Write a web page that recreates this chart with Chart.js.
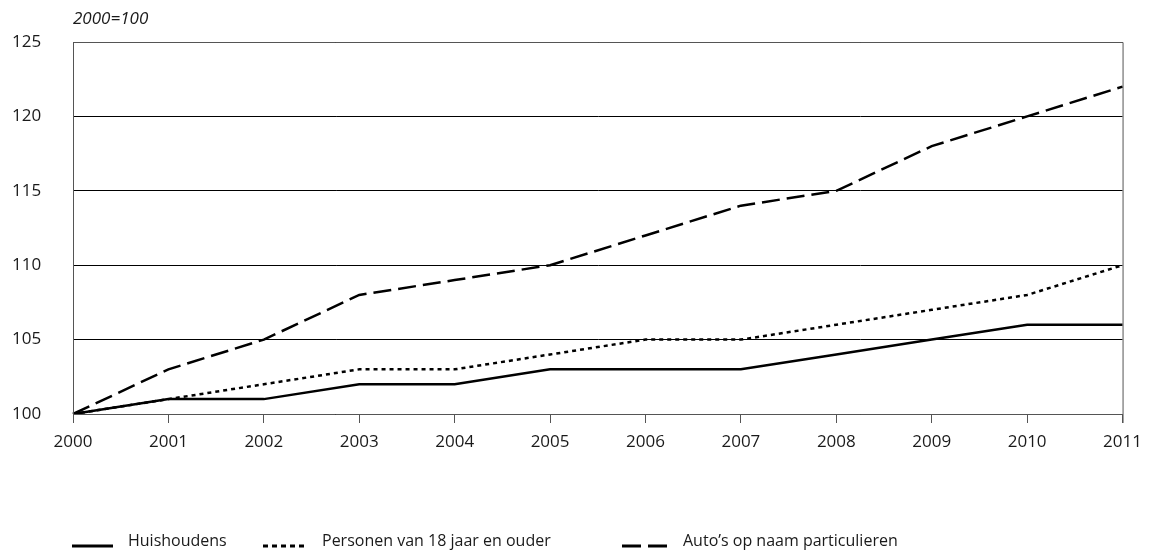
<!DOCTYPE html>
<html>
<head>
<meta charset="utf-8">
<script src="https://cdn.jsdelivr.net/npm/chart.js@4/dist/chart.umd.min.js"></script>
<style>
  html, body { margin: 0; padding: 0; background: #fff; }
  #wrap { width: 1151px; height: 557px; }
</style>
</head>
<body>
<div id="wrap"><canvas id="myChart" width="1151" height="557"></canvas></div>
<script>
// 데이터
const years = ["2000","2001","2002","2003","2004","2005","2006","2007","2008","2009","2010","2011"];
const huishoudens = [100, 101, 101, 102, 102, 103, 103, 103, 104, 105, 106, 106];
const personen = [100, 101, 102, 103, 103, 104, 105, 105, 106, 107, 108, 110];
const autos = [100, 103, 105, 108, 109, 110, 112, 114, 115, 118, 120, 122];
const yMin = 100, yMax = 125, yStep = 5;
const unitLabel = "2000=100";

const FONT = "'Open Sans', 'Noto Sans', sans-serif";
const TXT = "#1a1a1a";

// 프레임, 단위, 범례 그리기
const extras = {
	id: "extras",
	afterDraw(chart) {
		const c = chart.ctx, a = chart.chartArea;
		c.save();
		// 프레임
		c.strokeStyle = "#555";
		c.lineWidth = 1;
		c.beginPath();
		c.moveTo(a.left + 0.5, a.bottom);
		c.lineTo(a.left + 0.5, a.top + 0.5);
		c.lineTo(a.right + 0.5, a.top + 0.5);
		c.lineTo(a.right + 0.5, a.bottom + 9);
		c.stroke();

		// 단위
		c.fillStyle = TXT;
		c.font = "italic 17px " + FONT;
		c.textBaseline = "middle";
		c.textAlign = "left";
		c.fillText(unitLabel, a.left, 19);

		// 범례
		const items = [
			{ x: 72, w: 41, tx: 128 },
			{ x: 263, w: 44, tx: 322 },
			{ x: 622, w: 45, tx: 683 }
		];
		c.font = "16px " + FONT;
		chart.data.datasets.forEach(function(ds, i) {
			const it = items[i];
			c.strokeStyle = "#000";
			c.lineWidth = 3;
			c.setLineDash(ds.legendDash || []);
			c.beginPath();
			c.moveTo(it.x, 546);
			c.lineTo(it.x + it.w, 546);
			c.stroke();
			c.setLineDash([]);
			c.fillStyle = TXT;
			c.fillText(ds.label, it.tx, 541);
		});
		c.restore();
	}
};

const config = {
	type: "line",
	data: {
		labels: years,
		datasets: [{
			label: "Huishoudens",
			data: huishoudens,
			borderColor: "#000",
			borderWidth: 2.5,
			pointRadius: 0,
			tension: 0,
			legendDash: []
		}, {
			label: "Personen van 18 jaar en ouder",
			data: personen,
			borderColor: "#000",
			borderWidth: 2.5,
			borderDash: [4, 4],
			pointRadius: 0,
			tension: 0,
			legendDash: [5, 4]
		}, {
			label: "Auto\u2019s op naam particulieren",
			data: autos,
			borderColor: "#000",
			borderWidth: 2.5,
			borderDash: [18, 7],
			pointRadius: 0,
			tension: 0,
			legendDash: [19, 7]
		}]
	},
	options: {
		responsive: false,
		animation: false,
		layout: { padding: { left: 12, top: 42, right: 27, bottom: 103 } },
		plugins: {
			legend: { display: false },
			tooltip: { enabled: false }
		},
		scales: {
			x: {
				offset: false,
				afterFit: function(s) { s.height = 40; },
				grid: {
					drawOnChartArea: false,
					drawTicks: true,
					tickLength: 9,
					color: "#555"
				},
				border: { color: "#555", width: 1 },
				ticks: {
					color: TXT,
					font: { family: FONT, size: 17 },
					padding: 9,
					maxRotation: 0,
					autoSkip: false
				}
			},
			y: {
				min: yMin,
				max: yMax,
				afterFit: function(s) { s.width = 61; },
				grid: {
					color: "#000",
					lineWidth: 1,
					drawTicks: false
				},
				border: { color: "#555", width: 1 },
				ticks: {
					stepSize: yStep,
					crossAlign: "far",
					color: TXT,
					font: { family: FONT, size: 17 },
					padding: 8
				}
			}
		}
	},
	plugins: [extras]
};

const myChart = new Chart(document.getElementById("myChart"), config);
</script>
</body>
</html>
